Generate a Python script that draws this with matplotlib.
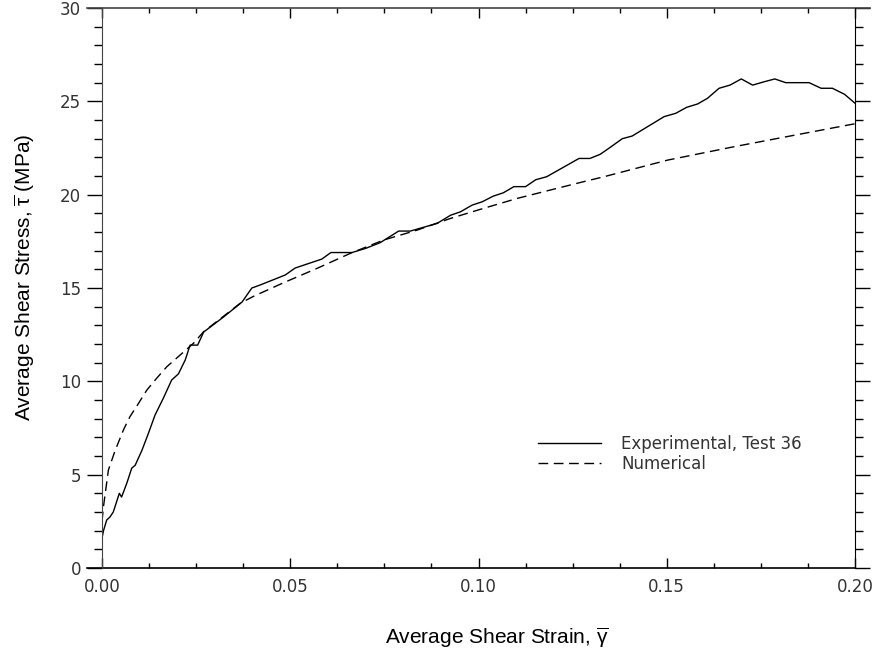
import matplotlib
matplotlib.use("Agg")
import matplotlib.pyplot as plt
from matplotlib.ticker import MultipleLocator, FormatStrFormatter

# =======================================================
# Data
# =======================================================

exp_strain = [0.0, 0.0, 0.0004, 0.00125, 0.0021, 0.003, 0.0046, 0.0052, 0.0066, 0.0079,
              0.0088, 0.0106, 0.0123, 0.0141, 0.0163, 0.0185, 0.0203, 0.0221, 0.0234,
              0.0254, 0.027, 0.0287, 0.0323, 0.0372, 0.0398, 0.042, 0.0487, 0.0513,
              0.0584, 0.0608, 0.0664, 0.070, 0.0739, 0.0788, 0.0819, 0.089, 0.0926,
              0.0952, 0.0983, 0.101, 0.1039, 0.1066, 0.1094, 0.1125, 0.1152, 0.1181,
              0.1267, 0.1296, 0.1323, 0.1346, 0.1382, 0.1408, 0.1493, 0.1524, 0.1553,
              0.1582, 0.1608, 0.1639, 0.1668, 0.1698, 0.1728, 0.1759, 0.1787, 0.1816,
              0.1878, 0.191, 0.194, 0.1972, 0.2]
exp_stress = [0.9, 1.6, 2.0, 2.57, 2.73, 3.0, 4.0, 3.8, 4.55, 5.35,
              5.5, 6.3, 7.2, 8.2, 9.1, 10.07, 10.4, 11.14, 11.94,
              11.94, 12.64, 12.9, 13.45, 14.25, 15.0, 15.16, 15.7, 16.07,
              16.55, 16.9, 16.9, 17.12, 17.43, 18.05, 18.05, 18.46, 18.9,
              19.08, 19.44, 19.62, 19.92, 20.1, 20.43, 20.43, 20.8, 20.96,
              21.94, 21.94, 22.16, 22.48, 23.0, 23.14, 24.18, 24.36, 24.68,
              24.86, 25.16, 25.7, 25.87, 26.2, 25.87, 26.05, 26.2, 26.0,
              26.0, 25.7, 25.7, 25.38, 24.9]

num_strain = [0.0, 0.0004, 0.0017, 0.0035, 0.0057, 0.0074, 0.0097, 0.0119, 0.0145,
              0.0172, 0.0207, 0.0243, 0.027, 0.0367, 0.0402, 0.0482, 0.0571, 0.066,
              0.0748, 0.0837, 0.0926, 0.1014, 0.1103, 0.1191, 0.128, 0.1333, 0.1502,
              0.1679, 0.1856, 0.2]
num_stress = [2.5, 3.3, 5.25, 6.3, 7.4, 8.1, 8.82, 9.53, 10.16,
              10.78, 11.4, 12.04, 12.66, 14.18, 14.55, 15.28, 16.05, 16.86,
              17.57, 18.1, 18.73, 19.27, 19.8, 20.25, 20.7, 20.96, 21.85,
              22.57, 23.25, 23.8]

series_labels = ["Experimental, Test 36", "Numerical"]

# =======================================================
# Plot
# =======================================================

plt.rcParams["mathtext.fontset"] = "custom"
plt.rcParams["mathtext.rm"] = "Liberation Sans"
plt.rcParams["mathtext.it"] = "Liberation Sans"

tick_font = {"family": "DejaVu Sans", "size": 12}
label_font = {"family": "Liberation Sans", "size": 15}

fig = plt.figure(figsize=(8.77, 6.56), dpi=100)
ax = fig.add_axes([102 / 877, 88 / 656, 753 / 877, 560 / 656])

ax.plot(exp_strain, exp_stress, color="black", lw=1.0, label=series_labels[0])
ax.plot(num_strain, num_stress, color="black", lw=1.0, dashes=(7, 4), label=series_labels[1])

ax.set_xlim(0, 0.2)
ax.set_ylim(0, 30)

ax.xaxis.set_major_locator(MultipleLocator(0.05))
ax.xaxis.set_minor_locator(MultipleLocator(0.0125))
ax.xaxis.set_major_formatter(FormatStrFormatter("%.2f"))
ax.yaxis.set_major_locator(MultipleLocator(5))
ax.yaxis.set_minor_locator(MultipleLocator(1))

ax.tick_params(axis="x", which="both", direction="in", top=True, bottom=True, width=1)
ax.tick_params(axis="x", which="major", length=7, pad=7)
ax.tick_params(axis="x", which="minor", length=3.5)
ax.tick_params(axis="y", which="both", direction="out", left=True, right=True, width=1)
ax.tick_params(axis="y", which="major", length=11, pad=4)
ax.tick_params(axis="y", which="minor", length=5.5)

for lab in ax.get_xticklabels() + ax.get_yticklabels():
    lab.set_fontfamily(tick_font["family"])
    lab.set_fontsize(tick_font["size"])
    lab.set_color("#333333")

# IDL style box: top/bottom lines run past the y axes
ax.spines["top"].set_visible(False)
ax.spines["bottom"].set_visible(False)
ax.plot([-0.02, 1.02], [1, 1], transform=ax.transAxes, color="#444444", lw=1.2, clip_on=False)
ax.plot([-0.02, 1.0], [0, 0], transform=ax.transAxes, color="black", lw=1.2, clip_on=False)
ax.spines["left"].set_color("#444444")

leg = ax.legend(loc="upper left", bbox_to_anchor=(0.579, 0.238), frameon=False,
                borderpad=0, borderaxespad=0, handlelength=3.8, handletextpad=1.2,
                labelspacing=0.15, prop={"family": "DejaVu Sans", "size": 12})
for t in leg.get_texts():
    t.set_color("#333333")

fig.text(497 / 877, 18 / 656, r"Average Shear Strain, $\overline{\gamma}$",
         ha="center", va="center", **label_font)
fig.text(25 / 877, 379 / 656, r"Average Shear Stress, $\overline{\tau}$ (MPa)",
         ha="center", va="center", rotation=90, **label_font)

plt.savefig("out.png", dpi=100)
